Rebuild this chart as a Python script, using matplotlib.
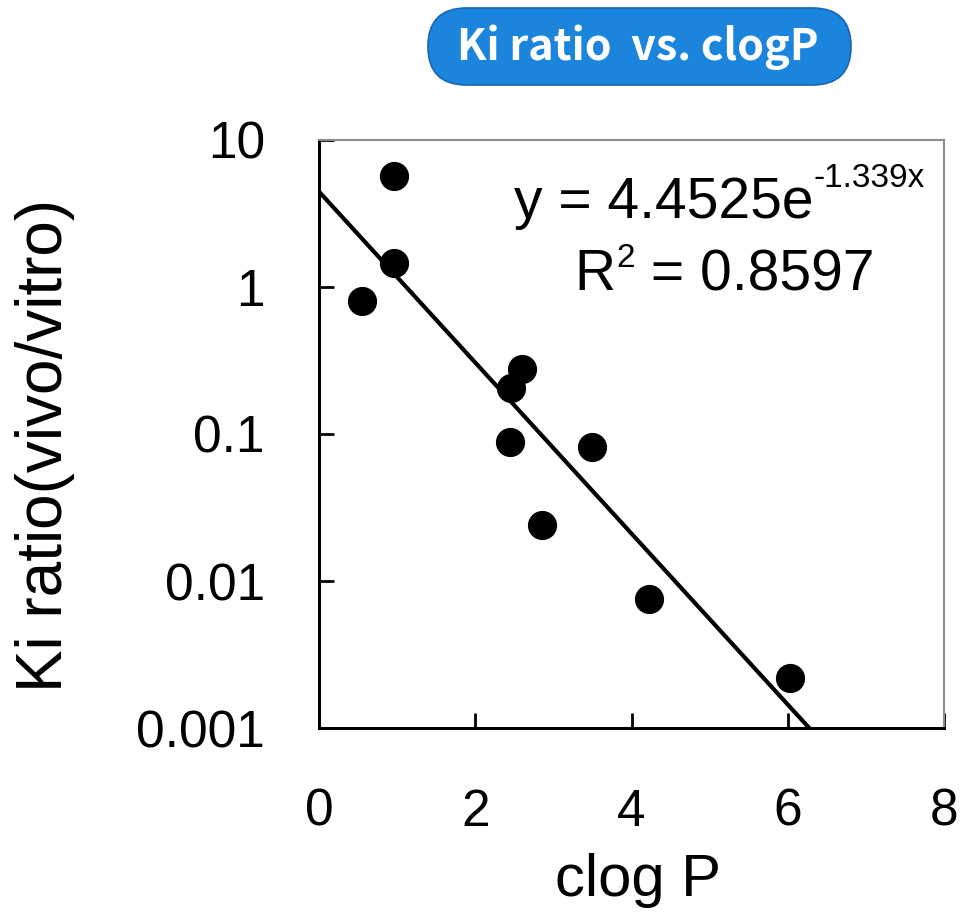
import matplotlib.pyplot as plt
import numpy as np
from matplotlib.patches import FancyBboxPatch

# clogP vs Ki ratio (in vivo / in vitro)
clogp = [0.96, 0.96, 0.55, 2.60, 2.46, 2.45, 3.49, 2.86, 4.22, 6.03]
ki_ratio = [5.7, 1.45, 0.80, 0.275, 0.207, 0.088, 0.081, 0.024, 0.0076, 0.0022]

# exponential fit y = a * exp(b * x)
fit_a = 4.4525
fit_b = -1.339
fit_r2 = 0.8597

x_ticks = [0, 2, 4, 6, 8]
y_ticks = [0.001, 0.01, 0.1, 1, 10]
y_tick_labels = ["0.001", "0.01", "0.1", "1", "10"]

plt.rcParams['font.family'] = ['Liberation Sans', 'DejaVu Sans']

fig = plt.figure(figsize=(9.63, 9.19), dpi=100)
ax = fig.add_axes([0.3313, 0.2078, 0.6490, 0.6399])

xs = np.linspace(0, 6.5, 200)
ax.plot(xs, fit_a * np.exp(fit_b * xs), color='black', lw=3, zorder=2)
ax.plot(clogp, ki_ratio, 'o', color='black', markersize=20, zorder=3)

ax.set_yscale('log')
ax.set_xlim(0, 8)
ax.set_ylim(0.001, 10)
ax.set_xticks(x_ticks)
ax.set_xticklabels([str(t) for t in x_ticks])
ax.set_yticks(y_ticks)
ax.set_yticklabels(y_tick_labels)
ax.yaxis.set_minor_locator(plt.NullLocator())

ax.tick_params(axis='both', direction='in', length=11, width=2, labelsize=37)
ax.tick_params(axis='y', pad=39)
ax.tick_params(axis='x', pad=43)

for side in ['left', 'bottom']:
    ax.spines[side].set_linewidth(2.2)
    ax.spines[side].set_color('black')
for side in ['top', 'right']:
    ax.spines[side].set_linewidth(1.5)
    ax.spines[side].set_color('#8c8c8c')

ax.set_xlabel("clog P", fontsize=43)
ax.xaxis.set_label_coords(0.51, -0.212)
ax.set_ylabel("Ki ratio(vivo/vitro)", fontsize=46)
ax.yaxis.set_label_coords(-0.39, 0.48)

# fit equation with raised exponent
eq = ax.text(0.3125, 0.867, "y = %.4fe" % fit_a, transform=ax.transAxes,
             fontsize=41, ha='left', va='baseline')
ax.annotate("%.3fx" % fit_b, xy=(1, 0), xycoords=eq, xytext=(0, 26),
            textcoords='offset points', fontsize=24, ha='left', va='bottom')

r_txt = ax.text(0.4085, 0.7445, "R", transform=ax.transAxes,
                fontsize=41, ha='left', va='baseline')
r_sup = ax.annotate("2", xy=(1, 0), xycoords=r_txt, xytext=(1, 20),
                    textcoords='offset points', fontsize=24, ha='left', va='bottom')
ax.annotate(" = %.4f" % fit_r2, xy=(1, 0), xycoords=(r_sup, r_txt),
            xytext=(0, 0), textcoords='offset points', fontsize=41,
            ha='left', va='bottom')

# title badge
badge = FancyBboxPatch((0.4444, 0.9075), 0.4393, 0.0838,
                       boxstyle="round,pad=0,rounding_size=0.04",
                       transform=fig.transFigure, facecolor='#1b84dd',
                       edgecolor='#1766b5', lw=1.2, mutation_aspect=1.047)
fig.patches.append(badge)
fig.text(0.6625, 0.9489, "Ki ratio  vs. clogP", color='white',
         fontsize=31, fontweight='bold', ha='center', va='center',
         family=['Noto Sans CJK JP', 'DejaVu Sans'])

fig.savefig("out.png", dpi=100)
